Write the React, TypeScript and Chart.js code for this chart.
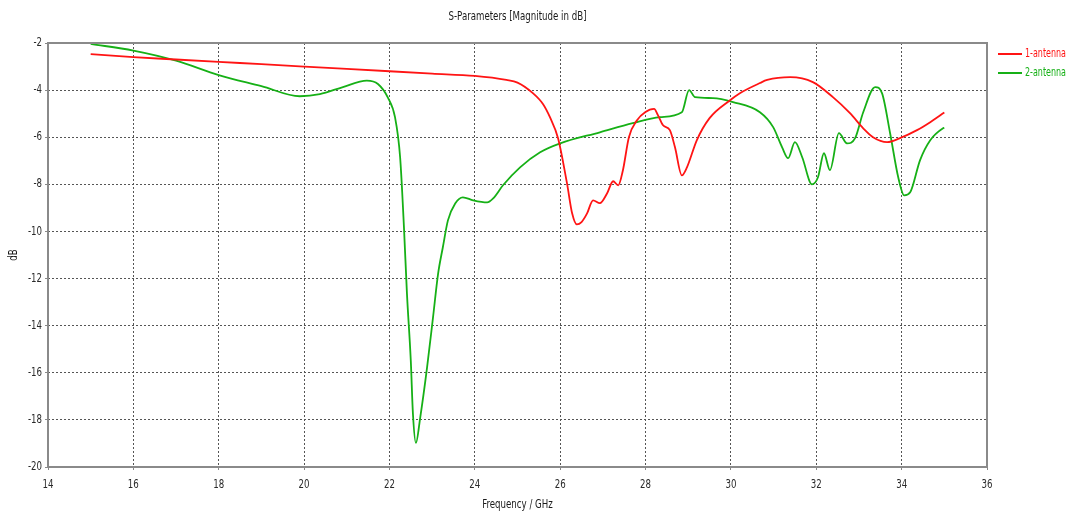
import React, { useEffect, useRef } from "react";
import { Chart, registerables } from "chart.js";

Chart.register(...registerables);

const chartTitle = "S-Parameters [Magnitude in dB]";
const xTitle = "Frequency / GHz";
const yTitle = "dB";
const seriesNames = ["1-antenna", "2-antenna"];
const seriesColors = ["#ff1414", "#16b016"];

const redFreq = [15.0, 16.0, 17.0, 18.0, 19.0, 20.0, 21.0, 22.0, 23.0, 24.0, 24.74, 25.0, 25.36, 25.6, 25.76, 25.95, 26.16, 26.28, 26.39, 26.5, 26.63, 26.77, 26.93, 27.1, 27.24, 27.36, 27.47, 27.61, 27.8, 27.99, 28.2, 28.29, 28.41, 28.57, 28.69, 28.85, 28.97, 29.2, 29.5, 29.98, 30.21, 30.68, 30.85, 31.39, 31.92, 32.39, 32.79, 33.1, 33.33, 33.66, 33.96, 34.36, 34.67, 35.0];
const redDb = [-2.47, -2.6, -2.7, -2.8, -2.9, -3.0, -3.1, -3.2, -3.3, -3.4, -3.57, -3.68, -4.13, -4.6, -5.15, -6.04, -7.96, -9.23, -9.7, -9.6, -9.23, -8.68, -8.8, -8.38, -7.87, -8.04, -7.4, -6.0, -5.28, -4.94, -4.8, -5.06, -5.49, -5.7, -6.43, -7.62, -7.28, -6.13, -5.19, -4.43, -4.13, -3.7, -3.57, -3.45, -3.66, -4.3, -4.98, -5.62, -6.0, -6.21, -6.04, -5.7, -5.36, -4.95];

const greenFreq = [15.0, 16.0, 17.0, 18.0, 19.0, 19.9, 20.37, 20.91, 21.47, 21.73, 21.97, 22.13, 22.25, 22.34, 22.41, 22.5, 22.55, 22.62, 22.72, 22.88, 23.02, 23.14, 23.25, 23.37, 23.54, 23.72, 23.96, 24.29, 24.43, 24.66, 25.06, 25.53, 26.0, 26.93, 27.7, 28.34, 28.85, 29.02, 29.16, 29.58, 30.05, 30.68, 30.99, 31.2, 31.34, 31.5, 31.67, 31.9, 32.04, 32.18, 32.32, 32.53, 32.72, 32.91, 33.1, 33.38, 33.54, 33.73, 33.92, 34.06, 34.2, 34.43, 34.67, 34.97, 35.0];
const greenDb = [-2.04, -2.32, -2.75, -3.36, -3.83, -4.26, -4.17, -3.87, -3.6, -3.74, -4.34, -5.15, -6.85, -9.83, -12.64, -15.49, -17.74, -18.98, -17.91, -15.79, -13.66, -11.79, -10.68, -9.53, -8.81, -8.55, -8.68, -8.77, -8.6, -8.04, -7.28, -6.64, -6.26, -5.79, -5.4, -5.15, -4.94, -4.0, -4.3, -4.34, -4.51, -4.94, -5.57, -6.43, -6.89, -6.21, -6.85, -8.0, -7.7, -6.68, -7.4, -5.83, -6.26, -6.04, -4.94, -3.87, -4.13, -5.83, -7.7, -8.47, -8.34, -6.98, -6.13, -5.62, -5.6];

const xMin = 14, xMax = 36, xStep = 2;
const yMin = -20, yMax = -2, yStep = 2;

const FONT = "'DejaVu Sans Condensed', 'DejaVu Sans', sans-serif";

function drawText(ctx: CanvasRenderingContext2D, text: string, x: number, y: number, align: CanvasTextAlign, color: string, rot = 0, squeeze = 0.8) {
  ctx.save();
  ctx.translate(x, y);
  if (rot) ctx.rotate(rot);
  ctx.scale(squeeze, 1);
  ctx.fillStyle = color;
  ctx.font = `12px ${FONT}`;
  ctx.textAlign = align;
  ctx.textBaseline = "middle";
  ctx.fillText(text, 0, 0);
  ctx.restore();
}

const decorPlugin = {
  id: "decor",
  afterDraw(chart: any) {
    const { ctx, chartArea } = chart;
    const { left, right, top, bottom } = chartArea;
    ctx.save();
    ctx.strokeStyle = "#8a8a8a";
    ctx.lineWidth = 2;
    ctx.setLineDash([]);
    ctx.strokeRect(left, top, right - left, bottom - top);
    ctx.restore();

    const xs = chart.scales.x;
    const ys = chart.scales.y;
    xs.ticks.forEach((t: any) => {
      drawText(ctx, String(t.value), xs.getPixelForValue(t.value), 485, "center", "#2a2a2a");
    });
    ys.ticks.forEach((t: any) => {
      drawText(ctx, String(t.value), 42, ys.getPixelForValue(t.value), "right", "#2a2a2a");
    });

    drawText(ctx, chartTitle, (left + right) / 2, 17, "center", "#1a1a1a");
    drawText(ctx, xTitle, (left + right) / 2, 505, "center", "#1a1a1a");
    drawText(ctx, yTitle, 14, (top + bottom) / 2, "center", "#1a1a1a", -Math.PI / 2);

    seriesNames.forEach((name, i) => {
      const y = 54 + i * 19;
      ctx.save();
      ctx.strokeStyle = seriesColors[i];
      ctx.lineWidth = 2;
      ctx.beginPath();
      ctx.moveTo(998, y);
      ctx.lineTo(1022, y);
      ctx.stroke();
      ctx.restore();
      drawText(ctx, name, 1025, y, "left", seriesColors[i], 0, 0.74);
    });
  },
};

export default function App() {
  const ref = useRef<HTMLCanvasElement | null>(null);
  useEffect(() => {
    document.body.style.margin = "0";
    document.body.style.overflow = "hidden";
    const canvas = ref.current;
    if (!canvas) return;
    const redData = redFreq.map((f, i) => ({ x: f, y: redDb[i] }));
    const greenData = greenFreq.map((f, i) => ({ x: f, y: greenDb[i] }));
    const chart = new Chart(canvas, {
      type: "line",
      data: {
        datasets: [
          {
            label: seriesNames[0],
            data: redData,
            borderColor: seriesColors[0],
            borderWidth: 1.8,
            pointRadius: 0,
            cubicInterpolationMode: "monotone",
            fill: false,
          },
          {
            label: seriesNames[1],
            data: greenData,
            borderColor: seriesColors[1],
            borderWidth: 1.8,
            pointRadius: 0,
            cubicInterpolationMode: "monotone",
            fill: false,
          },
        ],
      },
      options: {
        animation: false,
        responsive: false,
        devicePixelRatio: 1,
        layout: { padding: { top: 43, right: 82, left: 0, bottom: 0 } },
        plugins: {
          legend: { display: false },
          title: { display: false },
          tooltip: { enabled: false },
        },
        scales: {
          x: {
            type: "linear",
            min: xMin,
            max: xMax,
            afterFit: (s: any) => { s.height = 45; },
            ticks: { stepSize: xStep, display: false },
            grid: {
              color: "#555",
              tickBorderDash: [],
              tickColor: "#888",
              tickLength: 3,
              lineWidth: 1,
            },
            border: { display: false, dash: [2, 2] },
          },
          y: {
            type: "linear",
            min: yMin,
            max: yMax,
            afterFit: (s: any) => { s.width = 48; },
            ticks: { stepSize: yStep, display: false },
            grid: {
              color: "#555",
              tickBorderDash: [],
              tickColor: "#888",
              tickLength: 3,
              lineWidth: 1,
            },
            border: { display: false, dash: [2, 2] },
          },
        },
      },
      plugins: [decorPlugin],
    } as any);
    return () => chart.destroy();
  }, []);
  return <canvas ref={ref} width={1069} height={512} style={{ display: "block" }} />;
}
